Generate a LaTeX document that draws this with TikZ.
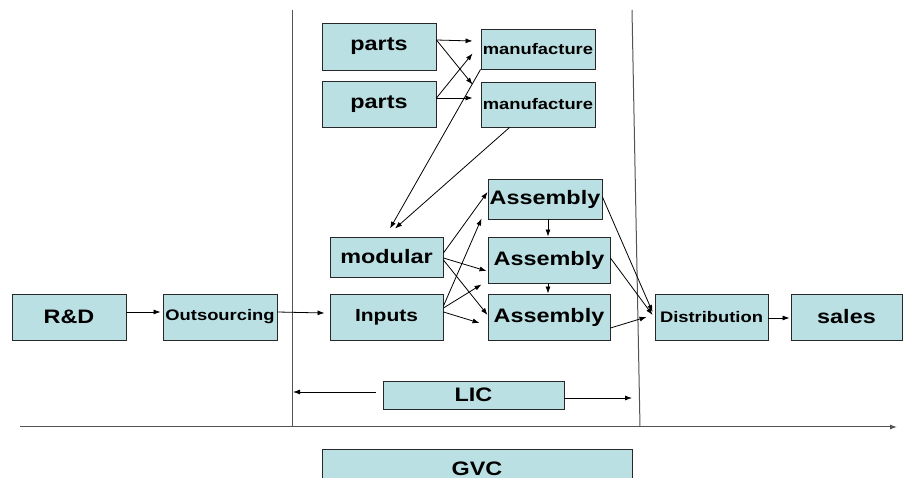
\documentclass[tikz,border=0pt]{standalone}
\usepackage{fontspec}
\setmainfont{Liberation Sans}
\newfontfamily\widebf[FakeStretch=1.2]{Liberation Sans Bold}
\usetikzlibrary{arrows.meta,calc}
\definecolor{boxc}{RGB}{187,224,227}
\definecolor{edgec}{RGB}{40,40,40}
\tikzset{
  box/.style={draw=edgec, line width=0.9pt, fill=boxc, inner sep=0pt, text=black},
  big/.style={font=\widebf\fontsize{19.5}{20}\selectfont},
  small/.style={font=\widebf\fontsize{15.3}{16}\selectfont},
  mid/.style={font=\widebf\fontsize{17.5}{18}\selectfont},
  arr/.style={draw=black, line width=0.8pt, -{Latex[length=7pt,width=5pt]}},
  frame/.style={draw=edgec!80!white, line width=1pt},
}
\begin{document}
\begin{tikzpicture}[x=1pt,y=-1pt]
\useasboundingbox (0,0) rectangle (903,478);
\clip (0,0) rectangle (903,478);
\fill[white] (0,0) rectangle (903,478);
% frame lines
\coordinate (lt) at (292,10);
\coordinate (lb) at (292,427);
\coordinate (rt) at (632,10);
\coordinate (rb) at (640,427);
\coordinate (ax0) at (20,427);
\coordinate (ax1) at (897,427);
\draw[frame] (lt) -- (lb);
\draw[frame] (rt) -- (rb);
\draw[frame, -{Latex[length=7pt,width=5pt]}] (ax0) -- (ax1);
% boxes
\node[box,big,minimum width=114,minimum height=47] (parts1) at (379,46.5) {parts};
\node[box,big,minimum width=114,minimum height=46] (parts2) at (379,104) {parts};
\node[box,small,minimum width=114,minimum height=40] (man1) at (538,49) {manufacture};
\node[box,small,minimum width=114,minimum height=45] (man2) at (538,104.5) {manufacture};
\node[box,big,minimum width=113,minimum height=40] (modular) at (386.5,257) {modular};
\node[box,mid,minimum width=113,minimum height=46] (inputs) at (386.5,317) {Inputs};
\node[box,big,minimum width=114,minimum height=40] (asm1) at (545,199) {Assembly};
\node[box,big,minimum width=122,minimum height=46] (asm2) at (549,260) {Assembly};
\node[box,big,minimum width=122,minimum height=46] (asm3) at (549,317) {Assembly};
\node[box,big,minimum width=114,minimum height=46] (rd) at (69,317) {R\&D};
\node[box,small,minimum width=114,minimum height=46] (out) at (220,317) {Outsourcing};
\node[box,small,minimum width=113,minimum height=46] (dist) at (711.5,317) {Distribution};
\node[box,big,minimum width=111,minimum height=46] (sales) at (846.5,317) {sales};
\node[box,big,minimum width=181,minimum height=28] (lic) at (473.5,395) {LIC};
\node[box,big,minimum width=310,minimum height=46,anchor=north] (gvc) at (477,449) {\raisebox{8pt}{GVC}};
% connectors
\draw[arr] ($(parts1.east)+(0,-6.5)$) -- ($(man1.west)+(-8,-8)$);
\draw[arr] ($(parts1.east)+(0,-6.5)$) -- ($(man2.north west)+(-8,3)$);
\draw[arr] ($(parts2.east)+(0,-6)$) -- ($(man1.south west)+(-8,-16)$);
\draw[arr] ($(parts2.east)+(0,-6)$) -- ($(man2.west)+(-8,-6.5)$);
\draw[arr] (man1.south west) -- ($(modular.north)+(3.5,-8)$);
\draw[arr] ($(man2.south west)+(29,0)$) -- ($(modular.north)+(8.5,-8)$);
\draw[arr] ($(modular.east)+(0,-4)$) -- ($(asm1.west)+(0,-7)$);
\draw[arr] ($(modular.east)+(0,1)$) -- ($(asm2.west)+(-1,11)$);
\draw[arr] ($(modular.east)+(0,3)$) -- ($(asm3.west)+(0,-2)$);
\draw[arr] ($(inputs.east)+(0,-11)$) -- ($(asm1.south west)+(-6,-1)$);
\draw[arr] ($(inputs.east)+(0,-9)$) -- ($(asm2.south west)+(-6,1)$);
\draw[arr] ($(inputs.east)+(0,-5)$) -- ($(asm3.west)+(-8,6)$);
\draw[arr] ($(asm1.south)+(3,0)$) -- ($(asm2.north)+(-1,0)$);
\draw[arr] ($(asm2.south)+(-1,0)$) -- ($(asm3.north)+(-1,0)$);
\draw[arr] ($(asm1.east)+(0,-2)$) -- ($(dist.west)+(-2,-5)$);
\draw[arr] ($(asm2.east)+(0,-2)$) -- ($(dist.west)+(-2,-2)$);
\draw[arr] ($(asm3.east)+(0,11)$) -- ($(dist.west)+(-8,0)$);
\draw[arr] ($(rd.east)+(0,-5)$) -- ($(out.west)+(-2,-5)$);
\draw[arr] ($(out.east)+(0,-5)$) -- ($(inputs.west)+(-5,-4)$);
\draw[arr] ($(dist.east)+(0,1)$) -- ($(sales.west)+(-1,1)$);
\coordinate (licl) at (293,392);
\coordinate (licr) at (632,398);
\draw[arr] ($(lic.west)+(-7,-3)$) -- (licl);
\draw[arr] ($(lic.east)+(0,3)$) -- (licr);
\end{tikzpicture}
\end{document}
